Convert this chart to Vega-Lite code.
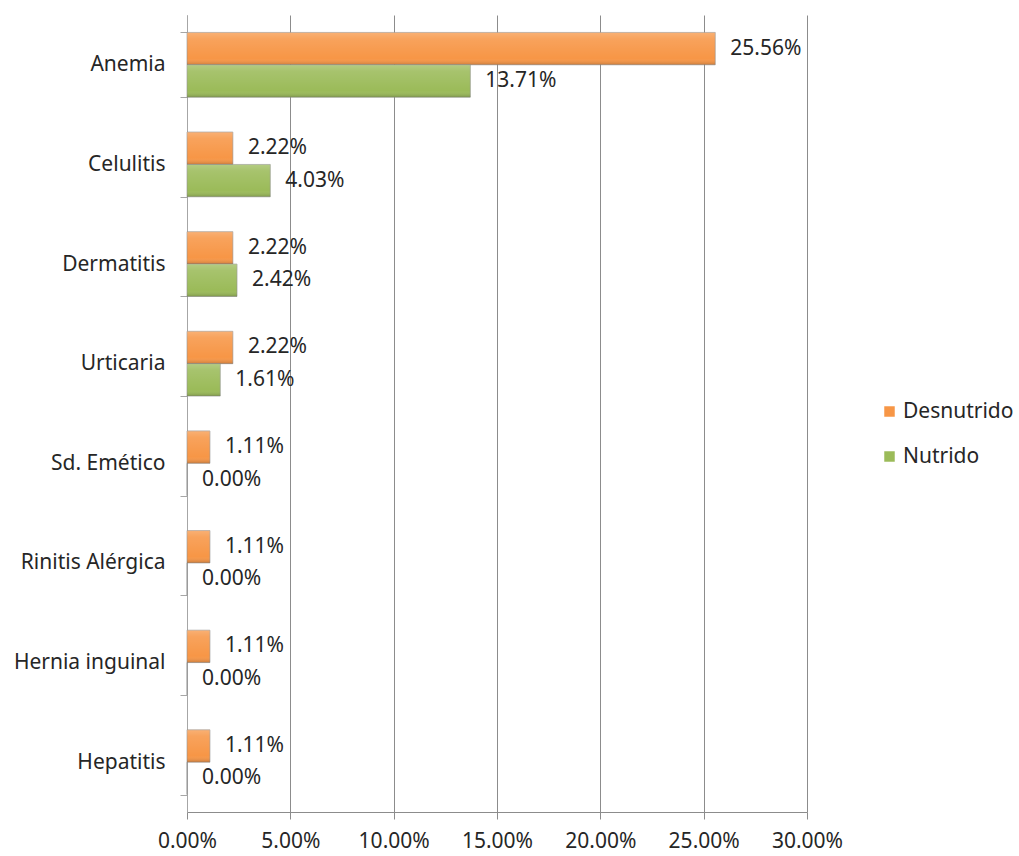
{
  "$schema": "https://vega.github.io/schema/vega-lite/v6.json",
  "autosize": "none",
  "width": 620,
  "height": 797,
  "padding": {"left": 187, "top": 15, "right": 212, "bottom": 44},
  "background": "white",
  "config": {
    "font": "Noto Sans",
    "view": {"stroke": null}
  },
  "data": {
    "values": [
      {"cat": "Anemia", "serie": "Desnutrido", "v": 0.2556},
      {"cat": "Anemia", "serie": "Nutrido", "v": 0.1371},
      {"cat": "Celulitis", "serie": "Desnutrido", "v": 0.0222},
      {"cat": "Celulitis", "serie": "Nutrido", "v": 0.0403},
      {"cat": "Dermatitis", "serie": "Desnutrido", "v": 0.0222},
      {"cat": "Dermatitis", "serie": "Nutrido", "v": 0.0242},
      {"cat": "Urticaria", "serie": "Desnutrido", "v": 0.0222},
      {"cat": "Urticaria", "serie": "Nutrido", "v": 0.0161},
      {"cat": "Sd. Emético", "serie": "Desnutrido", "v": 0.0111},
      {"cat": "Sd. Emético", "serie": "Nutrido", "v": 0.0},
      {"cat": "Rinitis Alérgica", "serie": "Desnutrido", "v": 0.0111},
      {"cat": "Rinitis Alérgica", "serie": "Nutrido", "v": 0.0},
      {"cat": "Hernia inguinal", "serie": "Desnutrido", "v": 0.0111},
      {"cat": "Hernia inguinal", "serie": "Nutrido", "v": 0.0},
      {"cat": "Hepatitis", "serie": "Desnutrido", "v": 0.0111},
      {"cat": "Hepatitis", "serie": "Nutrido", "v": 0.0}
    ]
  },
  "encoding": {
    "y": {
      "field": "cat",
      "type": "nominal",
      "sort": null,
      "scale": {"paddingInner": 0.35, "paddingOuter": 0.175},
      "axis": {
        "title": null,
        "tickBand": "extent",
        "tickSize": 7,
        "tickColor": "#a6a6a6",
        "domainColor": "#a6a6a6",
        "labelFontSize": 21,
        "labelColor": "#262626",
        "labelPadding": 15
      }
    },
    "yOffset": {"field": "serie", "type": "nominal", "sort": ["Desnutrido", "Nutrido"]},
    "x": {
      "field": "v",
      "type": "quantitative",
      "scale": {"domain": [0, 0.3], "nice": false},
      "axis": {
        "title": null,
        "format": ".2%",
        "values": [0, 0.05, 0.1, 0.15, 0.2, 0.25, 0.3],
        "labelOverlap": false,
        "labelFlush": false,
        "labelBound": false,
        "grid": true,
        "gridColor": "#8c8c8c",
        "tickColor": "#8c8c8c",
        "domainColor": "#8c8c8c",
        "tickSize": 7,
        "labelFontSize": 21,
        "labelColor": "#262626",
        "labelPadding": 11
      }
    }
  },
  "layer": [
    {
      "mark": {"type": "bar", "strokeWidth": 1, "stroke": "#909090", "strokeOpacity": 0.6},
      "encoding": {
        "color": {
          "field": "serie",
          "type": "nominal",
          "sort": ["Desnutrido", "Nutrido"],
          "scale": {"domain": ["Desnutrido", "Nutrido"], "range": ["#F79646", "#9BBB59"]},
          "legend": {
            "title": null,
            "orient": "none",
            "legendX": 692,
            "legendY": 386,
            "symbolType": "square",
            "symbolSize": 110,
            "symbolStrokeWidth": 0,
            "labelFontSize": 21,
            "labelColor": "#262626",
            "labelOffset": 3,
            "rowPadding": 23
          }
        }
      }
    },
    {
      "mark": {
        "type": "bar",
        "fill": {
          "gradient": "linear",
          "x1": 0, "y1": 0, "x2": 0, "y2": 1,
          "stops": [
            {"offset": 0, "color": "rgba(255,255,255,0.25)"},
            {"offset": 0.2, "color": "rgba(255,255,255,0.12)"},
            {"offset": 0.8, "color": "rgba(255,255,255,0)"},
            {"offset": 1, "color": "rgba(0,0,0,0.18)"}
          ]
        }
      },
      "encoding": {}
    },
    {
      "mark": {"type": "text", "align": "left", "dx": 15, "fontSize": 21, "color": "#262626"},
      "encoding": {
        "text": {"field": "v", "type": "quantitative", "format": ".2%"}
      }
    }
  ]
}
